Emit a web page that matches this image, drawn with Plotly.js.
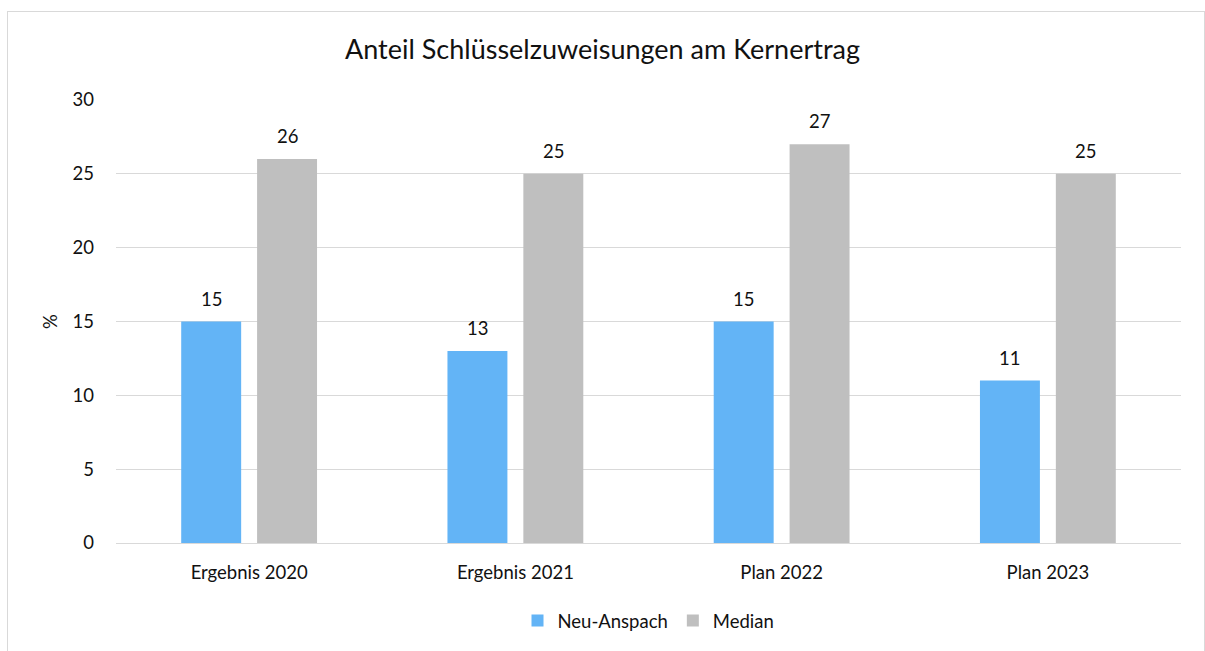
<!DOCTYPE html>
<html>
<head>
<meta charset="utf-8">
<script src="https://cdn.plot.ly/plotly-3.0.1.min.js"></script>
<style>
  body { margin: 0; background: #fff; }
  #frame { position: absolute; left: 7px; top: 11px; width: 1196px; height: 650px; border: 1px solid #d9d9d9; }
  #myPlot { position: absolute; left: 0; top: 0; width: 1205px; height: 651px; }
</style>
</head>
<body>
<div id="frame"></div>
<div id="myPlot"></div>
<script>
// categories and series
const categories = ["Ergebnis 2020", "Ergebnis 2021", "Plan 2022", "Plan 2023"];
const neuAnspach = [15, 13, 15, 11];
const median = [26, 25, 27, 25];
const yTicks = [0, 5, 10, 15, 20, 25, 30];

const FONT = "Lato, 'Open Sans', sans-serif";
const TEXT = "#111";

const trace1 = {
  x: categories,
  y: neuAnspach,
  name: "Neu-Anspach",
  type: "bar",
  marker: { color: "#63b4f6" },
};
const trace2 = {
  x: categories,
  y: median,
  name: "Median",
  type: "bar",
  marker: { color: "#bfbfbf" },
};

// value labels above the bars (offset to the group slot of each series)
const labels = [];
categories.forEach((c, i) => {
  labels.push({ x: c, y: neuAnspach[i], text: String(neuAnspach[i]), xshift: -38 });
  labels.push({ x: c, y: median[i], text: String(median[i]), xshift: 38 });
});
const annotations = labels.map((l) => ({
  x: l.x,
  y: l.y,
  xref: "x",
  yref: "y",
  text: l.text,
  showarrow: false,
  xshift: l.xshift,
  yshift: 23,
  yanchor: "middle",
  font: { size: 18.5, color: TEXT },
}));

const layout = {
  width: 1205,
  height: 651,
  margin: { l: 116, r: 24, t: 100, b: 107 },
  paper_bgcolor: "rgba(0,0,0,0)",
  plot_bgcolor: "rgba(0,0,0,0)",
  font: { family: FONT, size: 18.5, color: TEXT },
  title: {
    text: "Anteil Schlüsselzuweisungen am Kernertrag",
    font: { size: 27, color: TEXT },
    x: 0.5,
    xanchor: "center",
    y: 1 - 50 / 651,
    yanchor: "middle",
  },
  barmode: "group",
  bargap: 0.43,
  bargroupgap: 0.21,
  xaxis: {
    showgrid: false,
    showline: true,
    linecolor: "#d9d9d9",
    linewidth: 1,
    ticks: "",
    ticklabelstandoff: 13,
  },
  yaxis: {
    range: [0, 30],
    tickvals: yTicks,
    showgrid: true,
    gridcolor: "#d9d9d9",
    gridwidth: 1,
    zeroline: false,
    ticks: "",
    ticklabelstandoff: 21,
    title: { text: "%", font: { size: 18.5 }, standoff: 10 },
  },
  legend: {
    orientation: "h",
    x: 0.5,
    xanchor: "center",
    y: -77 / 444,
    yanchor: "middle",
    font: { size: 18.5 },
    itemwidth: 30,
  },
  annotations: annotations,
  showlegend: true,
};

Plotly.newPlot("myPlot", [trace1, trace2], layout, { displayModeBar: false, staticPlot: true });
</script>
</body>
</html>
